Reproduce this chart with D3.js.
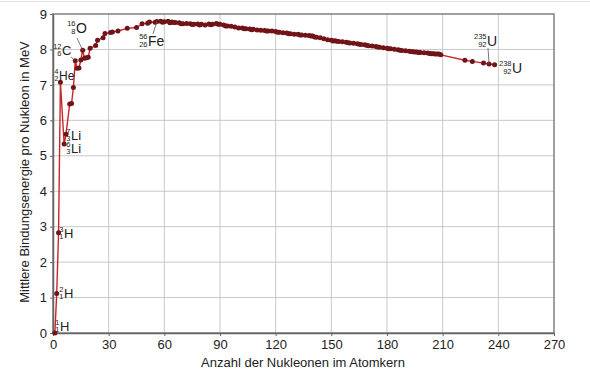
<!DOCTYPE html>
<html>
<head>
<meta charset="utf-8">
<script src="https://cdn.jsdelivr.net/npm/d3@7"></script>
<style>
  body { margin: 0; background: #fff; }
  svg { font-family: "Liberation Sans", Arial, sans-serif; }
</style>
</head>
<body>
<div id="chart"></div>
<script>
// mass number A and mean binding energy per nucleon (MeV)
var massNumbers = [1, 2, 3, 4, 6, 7, 9, 10, 11, 12, 13, 14, 15, 16, 17, 18, 19,
  20, 23, 24, 27, 28, 31, 32, 35, 40, 45, 48, 51, 52, 55, 56, 58, 59, 60, 62, 63,
  64, 65, 66, 68, 69, 70, 72, 74, 75, 76, 78, 79, 80, 82, 84, 85, 86, 88, 89, 90,
  92, 93, 94, 96, 98, 100, 102, 103, 104, 106, 107, 108, 110, 112, 114, 115, 116,
  118, 120, 121, 122, 124, 126, 127, 128, 130, 132, 133, 134, 136, 138, 139, 140,
  141, 142, 144, 146, 148, 150, 151, 152, 153, 154, 156, 158, 159, 160, 162, 164,
  165, 166, 168, 169, 170, 172, 174, 175, 176, 178, 180, 181, 182, 184, 186, 187,
  188, 190, 192, 193, 194, 195, 196, 197, 198, 200, 202, 203, 204, 205, 206, 207,
  208, 209, 222, 226, 232, 235, 238];
var bindingEnergy = [0, 1.112, 2.827, 7.074, 5.332, 5.606, 6.463, 6.475, 6.928,
  7.680, 7.470, 7.476, 7.699, 7.976, 7.751, 7.767, 7.779,
  8.032, 8.112, 8.261, 8.332, 8.448, 8.481, 8.493, 8.520, 8.595, 8.619, 8.723,
  8.742, 8.776, 8.765, 8.790, 8.792, 8.768, 8.781, 8.795, 8.752,
  8.777, 8.757, 8.760, 8.756, 8.725, 8.722, 8.732, 8.725, 8.701, 8.711, 8.718,
  8.688, 8.711, 8.693, 8.717, 8.697, 8.712, 8.733, 8.714, 8.710,
  8.693, 8.664, 8.662, 8.654, 8.635, 8.605, 8.607, 8.584, 8.584, 8.580, 8.554,
  8.567, 8.551, 8.545, 8.532, 8.517, 8.523,
  8.517, 8.505, 8.482, 8.488, 8.474, 8.463, 8.445, 8.443, 8.430, 8.428, 8.410,
  8.408, 8.403, 8.394, 8.378, 8.376,
  8.354, 8.346, 8.327, 8.304, 8.277, 8.262, 8.240, 8.244, 8.229, 8.225, 8.215,
  8.202, 8.189, 8.184, 8.173, 8.159,
  8.147, 8.142, 8.130, 8.115, 8.106, 8.097, 8.084, 8.069, 8.064, 8.049, 8.035,
  8.023, 8.018, 8.005, 7.989, 7.978,
  7.973, 7.963, 7.949, 7.939, 7.936, 7.927, 7.927, 7.916, 7.912, 7.906, 7.897,
  7.887, 7.880, 7.878, 7.875, 7.870,
  7.868, 7.848, 7.694, 7.662, 7.615, 7.591, 7.570];

var xTicks = [0, 30, 60, 90, 120, 150, 180, 210, 240, 270];
var yTicks = [0, 1, 2, 3, 4, 5, 6, 7, 8, 9];

// labelled nuclides: mass number, atomic number, symbol
var nuclideA = [1, 2, 3, 4, 6, 7, 12, 16, 56, 235, 238];
var nuclideZ = [1, 1, 1, 2, 3, 3, 6, 8, 26, 92, 92];
var nuclideSym = ["H", "H", "H", "He", "Li", "Li", "C", "O", "Fe", "U", "U"];

var width = 590, height = 380;
var margin = {top: 14, right: 36, bottom: 47, left: 53};

var data = massNumbers.map(function(a, i) { return {a: a, e: bindingEnergy[i]}; });

var x = d3.scaleLinear().domain([0, 270]).range([margin.left, width - margin.right]);
var y = d3.scaleLinear().domain([0, 9]).range([height - margin.bottom, margin.top]);

var svg = d3.select("#chart").append("svg")
  .attr("width", width)
  .attr("height", height);

// faint page border at the top
svg.append("line")
  .attr("x1", 0).attr("x2", width)
  .attr("y1", 1.5).attr("y2", 1.5)
  .style("stroke", "#e2e2e2");

// grid
svg.append("g").selectAll("line")
  .data(xTicks.slice(1, -1))
  .enter().append("line")
  .attr("x1", function(d) { return x(d); })
  .attr("x2", function(d) { return x(d); })
  .attr("y1", y(0)).attr("y2", y(9))
  .style("stroke", "#c8c8c8");
svg.append("g").selectAll("line")
  .data(yTicks.slice(1, -1))
  .enter().append("line")
  .attr("y1", function(d) { return y(d); })
  .attr("y2", function(d) { return y(d); })
  .attr("x1", x(0)).attr("x2", x(270))
  .style("stroke", "#c8c8c8");

// frame
svg.append("rect")
  .attr("x", x(0)).attr("y", y(9))
  .attr("width", x(270) - x(0)).attr("height", y(0) - y(9))
  .style("fill", "none")
  .style("stroke", "#808080")
  .style("stroke-width", 1.5);

//axis
var xAxis = svg.append("g")
  .attr("transform", "translate(0," + y(0) + ")")
  .call(d3.axisBottom(x).tickValues(xTicks).tickSize(3).tickSizeOuter(0).tickPadding(4));
var yAxis = svg.append("g")
  .attr("transform", "translate(" + x(0) + ",0)")
  .call(d3.axisLeft(y).tickValues(yTicks).tickSize(3).tickSizeOuter(0).tickPadding(3));
[xAxis, yAxis].forEach(function(g) {
  g.select(".domain").style("stroke", "#666").style("stroke-width", 1.5);
  g.selectAll(".tick line").style("stroke", "#666");
  g.selectAll(".tick text")
    .style("font-size", "13px")
    .style("font-family", "'Liberation Sans', Arial, sans-serif")
    .style("fill", "#222");
});

// titles
svg.append("text")
  .attr("x", 303).attr("y", 367)
  .attr("text-anchor", "middle")
  .style("font-size", "13px")
  .style("fill", "#222")
  .text("Anzahl der Nukleonen im Atomkern");
svg.append("text")
  .attr("transform", "translate(29,172) rotate(-90)")
  .attr("text-anchor", "middle")
  .style("font-size", "13px")
  .style("fill", "#222")
  .text("Mittlere Bindungsenergie pro Nukleon in MeV");

// curve
var line = d3.line()
  .x(function(d) { return x(d.a); })
  .y(function(d) { return y(d.e); });

svg.append("path")
  .datum(data)
  .attr("d", line)
  .style("fill", "none")
  .style("stroke", "#c8262b")
  .style("stroke-width", 1.4);

svg.selectAll(".dot")
  .data(data)
  .enter().append("circle")
  .attr("class", "dot")
  .attr("cx", function(d) { return x(d.a); })
  .attr("cy", function(d) { return y(d.e); })
  .attr("r", 2.5)
  .style("fill", "#701418");

// nuclide labels: symbol left edge, baseline, font size, leader line
var labelPos = {
  "1H":   {lx: 60,  ly: 331, fs: 13},
  "2H":   {lx: 64,  ly: 298, fs: 13},
  "3H":   {lx: 64,  ly: 238, fs: 13},
  "4He":  {lx: 59,  ly: 80,  fs: 12},
  "6Li":  {lx: 71,  ly: 153, fs: 13},
  "7Li":  {lx: 71,  ly: 140, fs: 13},
  "12C":  {lx: 62,  ly: 55,  fs: 13, leader: [71, 57]},
  "16O":  {lx: 76,  ly: 33,  fs: 14, leader: [77, 38]},
  "56Fe": {lx: 148, ly: 46,  fs: 14, leader: [153, 34]},
  "235U": {lx: 487, ly: 46,  fs: 14, leader: [488, 48]},
  "238U": {lx: 512, ly: 73,  fs: 14}
};

nuclideA.forEach(function(a, i) {
  var key = a + nuclideSym[i];
  var p = labelPos[key];
  var d = data.filter(function(v) { return v.a === a; })[0];
  if (p.leader) {
    svg.append("line")
      .attr("x1", p.leader[0]).attr("y1", p.leader[1])
      .attr("x2", x(d.a)).attr("y2", y(d.e))
      .style("stroke", "#555")
      .style("stroke-width", 0.8);
  }
  var g = svg.append("g").style("fill", "#222");
  var small = p.fs < 13 ? 7 : 7.5;
  g.append("text")
    .attr("x", p.lx - 0.5).attr("y", p.ly - p.fs * 0.48)
    .attr("text-anchor", "end")
    .style("font-size", small + "px")
    .text(a);
  g.append("text")
    .attr("x", p.lx - 0.5).attr("y", p.ly + 1)
    .attr("text-anchor", "end")
    .style("font-size", small + "px")
    .text(nuclideZ[i]);
  g.append("text")
    .attr("x", p.lx).attr("y", p.ly)
    .style("font-size", p.fs + "px")
    .text(nuclideSym[i]);
});
</script>
</body>
</html>
